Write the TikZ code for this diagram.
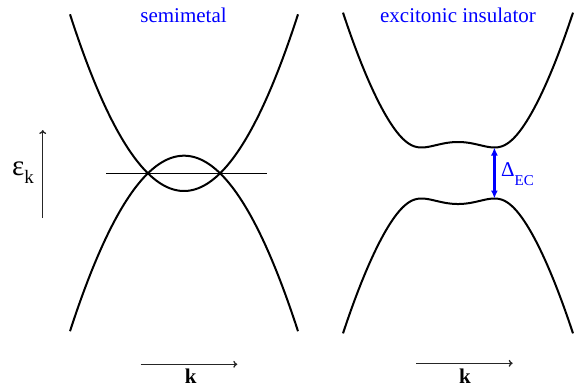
\documentclass[tikz,border=0pt]{standalone}
\usepackage{fontspec}
\setmainfont{Liberation Serif}
\usetikzlibrary{arrows.meta}

\begin{document}
\begin{tikzpicture}[
  x=1pt, y=1pt,
  band/.style={line width=2pt, draw=black, line join=round},
  fermi/.style={line width=1.2pt, draw=black},
  axis/.style={-{To[length=4pt,width=7pt]}, line width=1.3pt, draw=black!85},
  gap/.style={{Latex[length=8pt,width=7pt]}-{Latex[length=8pt,width=7pt]},
              line width=2.4pt, draw=blue},
  ttl/.style={font=\fontsize{21}{25}\selectfont, text=blue, anchor=base, inner sep=0pt},
  klab/.style={font=\fontsize{21}{25}\selectfont\bfseries, anchor=base, inner sep=0pt}
]
\useasboundingbox (0,0) rectangle (578,-388);

% ---------------- semimetal ----------------
\node[ttl] (tsemi) at (183.5,-22) {semimetal};
\draw[band] plot[domain=-114:114, samples=90] ({184+\x}, {-191+0.0136*\x*\x});
\draw[band] plot[domain=-114:114, samples=90] ({184+\x}, {-155.7-0.0135*\x*\x});
\coordinate (fl0) at (106,-173.3);
\coordinate (fl1) at (266.7,-173.3);
\draw[fermi] (fl0) -- (fl1);

% energy axis
\coordinate (ea0) at (42.7,-218);
\coordinate (ea1) at (42.7,-130);
\draw[axis] (ea0) -- (ea1);
\node[anchor=base west, inner sep=0pt, font=\fontsize{29}{32}\selectfont] (eps) at (12,-175)
  {ε\raisebox{-8pt}{\fontsize{19}{21}\selectfont k}};

% momentum axis
\coordinate (kl0) at (140.7,-364.3);
\coordinate (kl1) at (237.3,-364.3);
\draw[axis] (kl0) -- (kl1);
\node[klab] (kleft) at (190.7,-383) {k};

% ---------------- excitonic insulator ----------------
\node[ttl] (texc) at (458,-22) {excitonic insulator};
\draw[band] plot[domain=-115:115, samples=120]
  ({458+\x}, {-173+10*sqrt(((0.0133*\x*\x-17.65)/10)^2+6.5)});
\draw[band] plot[domain=-115:115, samples=120]
  ({458+\x}, {-173-10*sqrt(((0.0133*\x*\x-17.65)/10)^2+6.5)});

% gap
\coordinate (gtop) at (494.4,-147.5);
\coordinate (gbot) at (494.4,-198.5);
\draw[gap] (gtop) -- (gbot);
\node[anchor=base west, inner sep=0pt, text=blue, font=\fontsize{21}{24}\selectfont] (dgap) at (501,-176.7)
  {Δ\raisebox{-9pt}{\fontsize{15}{17}\selectfont EC}};

% momentum axis
\coordinate (kr0) at (416,-363.3);
\coordinate (kr1) at (512.7,-363.3);
\draw[axis] (kr0) -- (kr1);
\node[klab] (kright) at (465,-383) {k};

\end{tikzpicture}
\end{document}
